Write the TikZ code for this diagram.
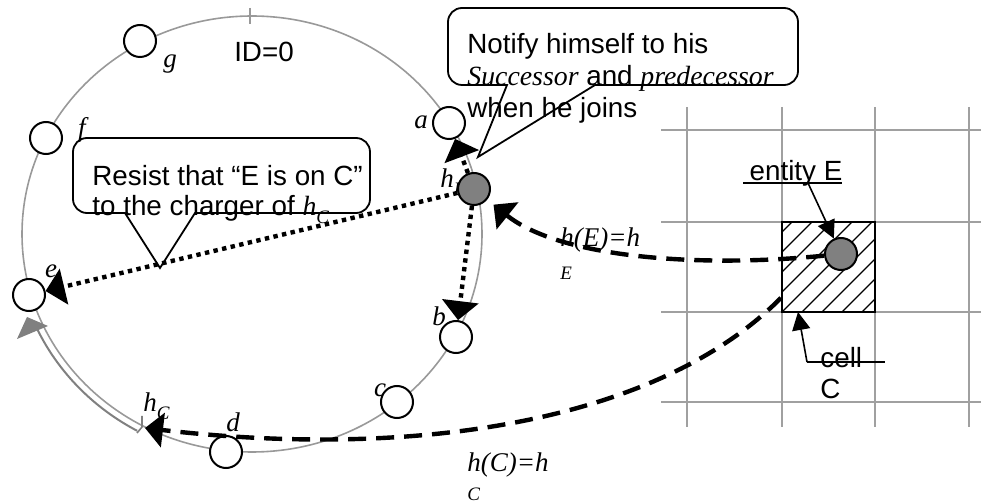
\documentclass[tikz,border=0pt]{standalone}
\usepackage{fontspec}
\setmainfont{Liberation Sans}
\newfontfamily\tms{Liberation Serif}
\usetikzlibrary{arrows.meta,calc}
\definecolor{ringgray}{HTML}{999999}
\definecolor{gridgray}{HTML}{A0A0A0}
\definecolor{arcgray}{HTML}{808080}
\definecolor{nodegray}{HTML}{808080}
\tikzset{
  peer/.style={circle,draw=black,line width=1pt,fill=white,minimum size=16pt,inner sep=0pt},
  joiner/.style={peer,fill=nodegray},
  lbl/.style={font=\fontsize{13.5}{16.5}\tms\itshape,inner sep=0pt},
  txt/.style={font=\fontsize{13.9}{16}\selectfont,inner sep=0pt,align=left},
  callout/.style={draw=black,line width=0.9pt},
  dotarrow/.style={line width=2.2pt,dash pattern=on 2.2pt off 2.2pt,-{Triangle[length=9.5pt,width=18pt]}},
  dasharrow/.style={line width=2.2pt,dash pattern=on 9pt off 5pt,-{Triangle[length=9pt,width=17pt]}},
  gridline/.style={draw=gridgray,line width=1pt},
  lead/.style={line width=0.8pt,-{Triangle[length=9pt,width=9pt]}},
  hollow/.style={draw=arcgray,line width=1pt},
}
\newcommand{\sub}[2]{#1\raisebox{-4pt}{\fontsize{9.5}{9.5}\selectfont #2}}

\begin{document}
\begin{tikzpicture}[x=0.5pt,y=-0.5pt]
  \useasboundingbox (0,0) rectangle (981,502);

  % the ring
  \draw[ringgray,line width=0.8pt] (252,234) ellipse [x radius=230,y radius=218];
  \draw[ringgray,line width=0.8pt] (250,8) -- (250,24);
  \node[txt] (id0) at (264,52) {ID=0};

  % hollow arc from h_C back to e
  \draw[hollow] (252,234) ++(119:237 and 225) arc[start angle=119,end angle=155,x radius=237,y radius=225];
  \fill[arcgray] (27,317) -- (17,339) -- (48,326) -- cycle;
  \coordinate (hC) at (145,428);
  \draw[arcgray,line width=0.8pt] (137,433) -- (142,427) -- (142,416);
  \node[lbl,anchor=base west] (hClbl) at (143,412) {\sub{h}{C}};

  % labels of the peers
  \node[lbl] (glbl) at (170,64) {g};
  \node[lbl] (flbl) at (82,130) {f};
  \node[lbl] (albl) at (421,122) {a};
  \node[lbl] (elbl) at (51,271) {e};
  \node[lbl] (blbl) at (439,316) {b};
  \node[lbl] (clbl) at (380,390) {c};
  \node[lbl] (dlbl) at (233,422) {d};
  \node[lbl,anchor=base west] (hElbl) at (440,188) {\sub{h}{E}};

  % peers on the ring
  \node[peer] (g) at (140,41) {};
  \node[peer] (f) at (46,138) {};
  \node[peer] (a) at (449,123) {};
  \node[peer] (e) at (29,295) {};
  \node[peer] (b) at (456,337) {};
  \node[peer] (c) at (397,402) {};
  \node[peer] (d) at (226,452) {};
  \node[joiner] (hE) at (474,189) {};

  % the grid
  \foreach \x in {687,782,875,969}
    \draw[gridline] (\x,107) -- (\x,427);
  \foreach \y in {130,222,312,402}
    \draw[gridline] (661,\y) -- (981,\y);

  % hatched cell C
  \begin{scope}
    \clip (782,222) rectangle (875,312);
    \foreach \s in {-80,-60,...,100}
      \draw[line width=0.6pt] ({782+\s},312) -- ++(95,-95);
  \end{scope}
  \node[draw=black,line width=1pt,minimum width=46.5pt,minimum height=45pt,inner sep=0pt] (cell) at (828.5,267) {};
  \node[joiner] (ent) at (841,254) {};

  % entity E and cell C notes
  \node[txt,anchor=base] (entlbl) at (796,181) {entity E};
  \draw[line width=0.8pt] (743,183) -- (842,183);
  \coordinate (entfoot) at (808,183);
  \draw[lead] (entfoot) -- (ent);
  \node[txt,anchor=north west,font=\fontsize{13.9}{15.5}\selectfont] (celllbl) at (820,347) {cell\\C};
  \draw[line width=0.8pt] (807,362) -- (885,362);
  \coordinate (cellfoot) at (807,362);
  \coordinate (celltip) at (798,312);
  \draw[lead] (cellfoot) -- (celltip);

  % hashes
  \draw[dasharrow,shorten >=4pt] (ent) .. controls (700,268) and (560,258) .. (hE);
  \node[lbl,anchor=north west,align=left] (hEeq) at (560,227) {h(E)=h\\{\fontsize{9.5}{9.5}\selectfont E}};
  \draw[dasharrow] (cell.213) .. controls (660,420) and (420,460) .. (hC);
  \node[lbl,anchor=north west,align=left,font=\fontsize{13.5}{14.5}\tms\itshape] (hCeq) at (467,452) {h(C)=h\\{\fontsize{9.5}{9.5}\selectfont C}};

  % messages of the joining node
  \draw[dotarrow] (hE) -- (a);
  \draw[dotarrow] (hE) -- (b);
  \draw[dotarrow] (hE) -- (e);

  % callouts
  \draw[callout] (160,268) -- (125,213) -- (100,213)
    {[rounded corners=7pt] -- (73,213) -- (73,138) -- (370,138) -- (370,213) -- (340,213)}
    -- (195,213) -- cycle;
  \node[txt,anchor=north west,font=\fontsize{13.9}{15}\selectfont] (resist) at (92,165)
    {Resist that “E is on C”\\to the charger of {\tms\itshape \sub{h}{C}}};
  \draw[callout] (478,157) -- (507,85) -- (480,85)
    {[rounded corners=7pt] -- (448,85) -- (448,8) -- (798,8) -- (798,85) -- (770,85)}
    -- (595,85) -- cycle;
  \node[txt,anchor=north west] (notify) at (467,33)
    {Notify himself to his\\{\tms\itshape Successor} and {\tms\itshape predecessor}\\when he joins};
\end{tikzpicture}
\end{document}
